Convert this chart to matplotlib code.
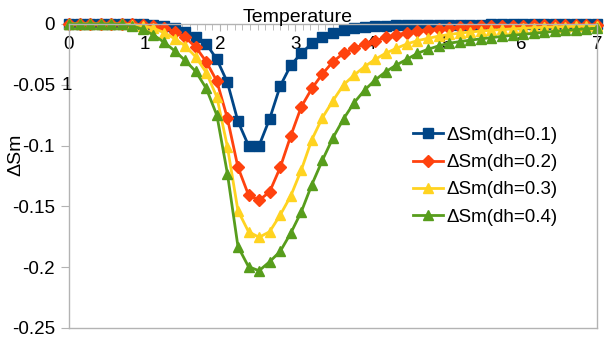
import matplotlib
matplotlib.use("Agg")
import matplotlib.pyplot as plt
from matplotlib.ticker import MultipleLocator, FuncFormatter

plt.rcParams['font.family'] = ['Liberation Sans', 'DejaVu Sans']
plt.rcParams['axes.unicode_minus'] = False

# temperature grid (step 0.14)
temp = [0.00, 0.14, 0.28, 0.42, 0.56, 0.70, 0.84, 0.98, 1.12, 1.26,
        1.40, 1.54, 1.68, 1.82, 1.96, 2.10, 2.24, 2.38, 2.52, 2.66,
        2.80, 2.94, 3.08, 3.22, 3.36, 3.50, 3.64, 3.78, 3.92, 4.06,
        4.20, 4.34, 4.48, 4.62, 4.76, 4.90, 5.04, 5.18, 5.32, 5.46,
        5.60, 5.74, 5.88, 6.02, 6.16, 6.30, 6.44, 6.58, 6.72, 6.86,
        7.00]

dsm_01 = [0, 0, 0, 0, 0, 0, -0.0001, -0.0003, -0.0007, -0.0015,
          -0.003, -0.0063, -0.0104, -0.0164, -0.029, -0.048, -0.080, -0.100, -0.100, -0.078,
          -0.051, -0.034, -0.024, -0.016, -0.0107, -0.0078, -0.0053, -0.0035, -0.0022, -0.0016,
          -0.0013, -0.0011, -0.0009, -0.0008, -0.0007, -0.0006, -0.0006, -0.0005, -0.0005, -0.0005,
          -0.0004, -0.0004, -0.0004, -0.0004, -0.0003, -0.0003, -0.0003, -0.0003, -0.0003, -0.0002,
          -0.0002]

dsm_02 = [0, 0, 0, 0, 0, 0, -0.0002, -0.0006, -0.0014, -0.003,
          -0.0062, -0.011, -0.019, -0.031, -0.047, -0.0775, -0.1178, -0.1406, -0.145, -0.138,
          -0.118, -0.092, -0.068, -0.053, -0.041, -0.031, -0.024, -0.020, -0.0164, -0.0137,
          -0.011, -0.009, -0.0071, -0.0057, -0.0046, -0.0038, -0.0032, -0.0027, -0.0023, -0.002,
          -0.0018, -0.0016, -0.0014, -0.0013, -0.0012, -0.0011, -0.001, -0.0009, -0.0008, -0.0008,
          -0.0007]

dsm_03 = [0, 0, 0, 0, 0, -0.0001, -0.0005, -0.0015, -0.0035, -0.007,
          -0.012, -0.018, -0.027, -0.040, -0.060, -0.101, -0.1535, -0.1708, -0.1754, -0.1708,
          -0.1571, -0.1414, -0.120, -0.095, -0.077, -0.063, -0.050, -0.042, -0.035, -0.029,
          -0.024, -0.020, -0.0164, -0.0137, -0.0118, -0.0100, -0.0086, -0.0075, -0.0066, -0.0058,
          -0.0051, -0.0045, -0.004, -0.0035, -0.0031, -0.0027, -0.0024, -0.0021, -0.0018, -0.0016,
          -0.0014]

dsm_04 = [0, 0, 0, 0, 0, -0.0003, -0.0015, -0.0045, -0.009, -0.015,
          -0.022, -0.030, -0.039, -0.053, -0.075, -0.123, -0.183, -0.1996, -0.2029, -0.1955,
          -0.187, -0.172, -0.1544, -0.132, -0.112, -0.0935, -0.078, -0.0647, -0.0543, -0.046,
          -0.0392, -0.0337, -0.029, -0.0241, -0.0208, -0.018, -0.0158, -0.0145, -0.0133, -0.0122,
          -0.0112, -0.0102, -0.0093, -0.0085, -0.0077, -0.0068, -0.006, -0.0053, -0.0046, -0.004,
          -0.0035]

y_ticks = [-0.25, -0.2, -0.15, -0.1, -0.05, 0]

labels = ['ΔSm(dh=0.1)', 'ΔSm(dh=0.2)', 'ΔSm(dh=0.3)', 'ΔSm(dh=0.4)']
colors = ['#004586', '#ff420e', '#ffd320', '#579d1c']
markers = ['s', 'D', '^', '^']
sizes = [7, 6, 7.5, 7.5]

fig = plt.figure(figsize=(6.05, 3.4), dpi=100)
ax = fig.add_axes([69 / 605, 12 / 340, 528 / 605, 304 / 340])

for ys, lab, c, m, s in zip([dsm_01, dsm_02, dsm_03, dsm_04], labels, colors, markers, sizes):
    ax.plot(temp, ys, color=c, marker=m, markersize=s, linewidth=2, label=lab, clip_on=False)

ax.set_xlim(0, 7)
ax.set_ylim(-0.25, 0)

for sp in ax.spines.values():
    sp.set_color('#b3b3b3')
    sp.set_linewidth(1)

ax.xaxis.set_major_locator(MultipleLocator(1))
ax.xaxis.set_minor_locator(MultipleLocator(0.1))
ax.tick_params(axis='x', which='both', top=True, bottom=False, labeltop=True, labelbottom=False,
               direction='in', color='#b3b3b3', labelsize=13.5, pad=-21)
ax.tick_params(axis='x', which='major', length=5)
ax.tick_params(axis='x', which='minor', length=4)

ax.set_yticks(y_ticks)
ax.yaxis.set_major_formatter(FuncFormatter(lambda v, p: '%g' % round(v, 4)))
ax.tick_params(axis='y', direction='out', length=6, color='#b3b3b3', labelsize=13.5, pad=4)

fig.text(298 / 605, 1 - 17 / 340, 'Temperature', fontsize=14, ha='center', va='center')
fig.text(16 / 605, 1 - 155 / 340, 'ΔSm', fontsize=14, ha='center', va='center', rotation=90)
fig.text(67 / 605, 1 - 85 / 340, '1', fontsize=13.5, ha='center', va='center')

ax.legend(loc='upper left', bbox_to_anchor=(405 / 605, 1 - 119 / 340), bbox_transform=fig.transFigure,
          frameon=False, fontsize=13.5, handlelength=1.6, handletextpad=0.2, labelspacing=0.55,
          borderaxespad=0)

fig.savefig('out.png', dpi=100)
